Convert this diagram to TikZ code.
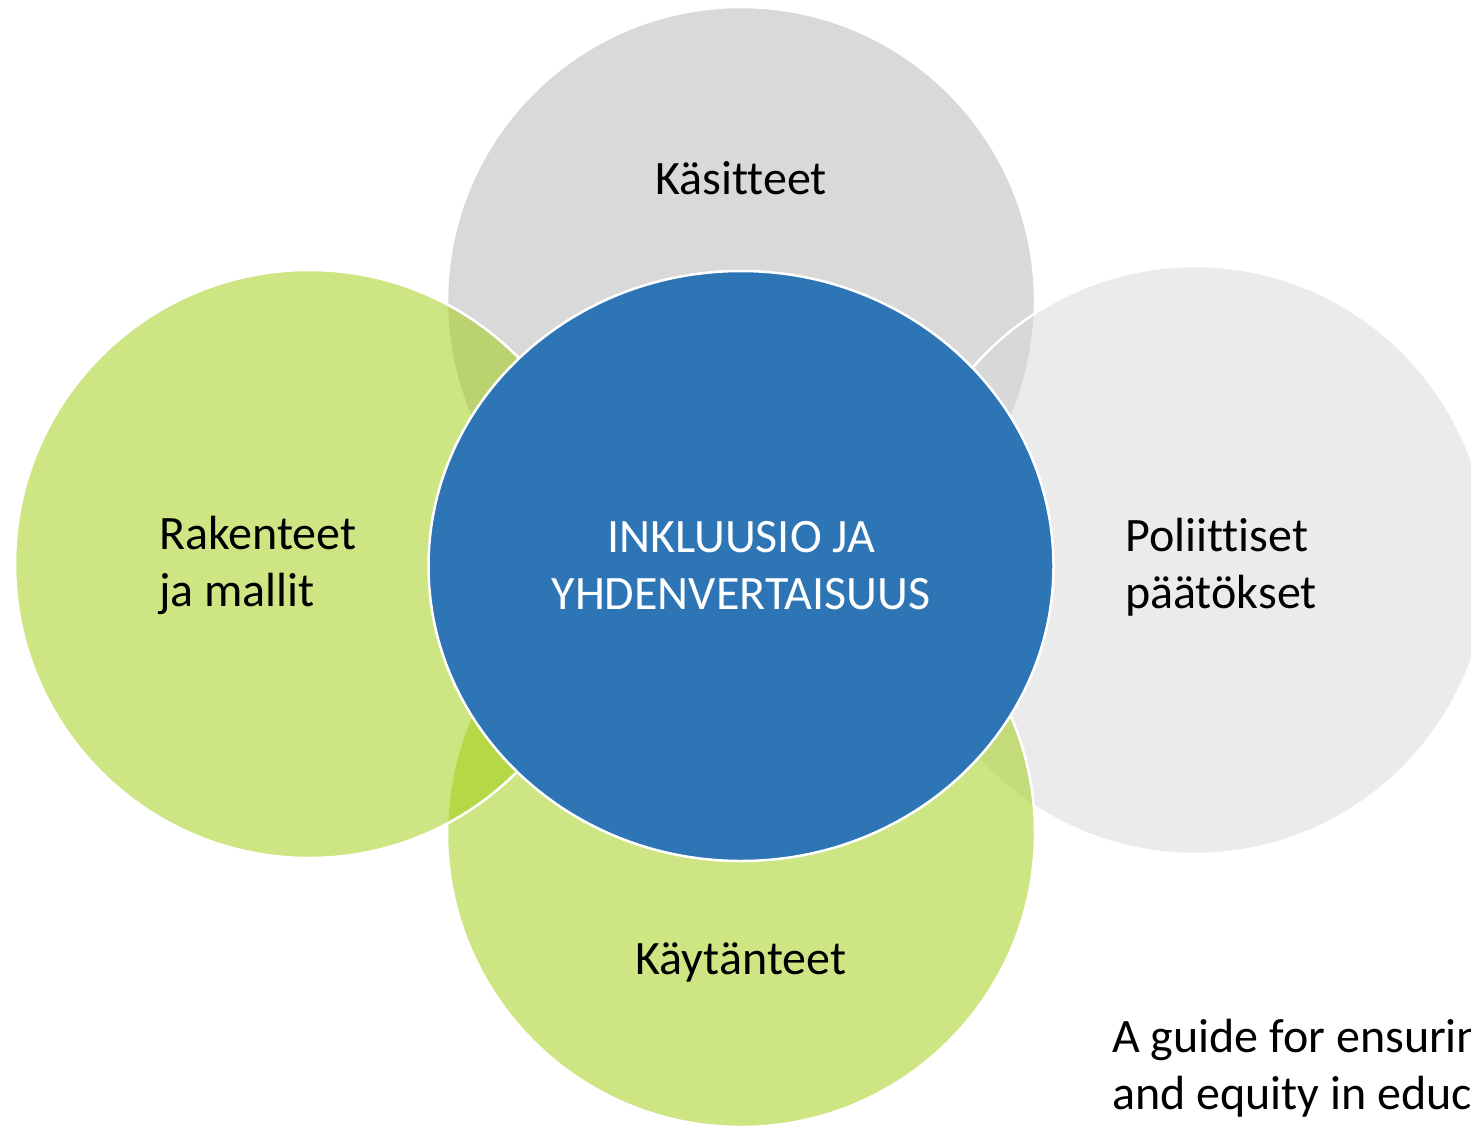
\documentclass[tikz,border=0pt]{standalone}
\usepackage{fontspec}
\setmainfont{Carlito}[Ligatures=NoCommon]
\usetikzlibrary{calc}
\usetikzlibrary{shapes}
\definecolor{topgray}{RGB}{179,179,179}
\definecolor{sidegray}{RGB}{215,215,215}
\definecolor{leafgreen}{RGB}{157,203,9}
\definecolor{coreblue}{RGB}{46,117,182}
\tikzset{petal/.style={circle, draw=white, line width=2.5pt, fill opacity=0.5, draw opacity=1, inner sep=0pt, minimum size=588pt}}
\tikzset{core/.style={ellipse, draw=white, line width=2.5pt, fill=coreblue, text=white, align=center, inner sep=0pt, minimum width=625pt, minimum height=590pt, font=\fontsize{48}{57}\selectfont}}
\tikzset{lbl/.style={inner sep=0pt, align=left, font=\fontsize{48}{57}\selectfont}}
\newcommand{\petal}[4]{\node[petal, fill=#4] (#1) at ( #2 , #3 ) {};}
\newcommand{\lbltext}[4]{\node[lbl, anchor=#4] (#1) at ( #2 , #3 )}

\begin{document}
\begin{tikzpicture}[x=1pt, y=-1pt]
        \useasboundingbox (0,0) rectangle (1471,1126);
        \clip (0,0) rectangle (1471,1126);

        % petals
        \petal{concepts}{741}{301}{topgray}
        \petal{policies}{1195}{560}{sidegray}
        \petal{practices}{741}{833}{leafgreen}
        \petal{structures}{309}{564}{leafgreen}

        % centre
        \node[core] (inclusion) at (741,566) {INKLUUSIO JA\\YHDENVERTAISUUS};

        % labels (base = last line)
        \lbltext{conceptslbl}{741}{194}{base} {Käsitteet};
        \lbltext{structureslbl}{159}{606}{base west} {Rakenteet\\ja mallit};
        \lbltext{policieslbl}{1125}{608}{base west} {Poliittiset\\päätökset};
        \lbltext{practiceslbl}{741}{974}{base} {Käytänteet};

        % source
        \lbltext{sourcelbl}{1112}{1109}{base west} {A guide for ensuring\\and equity in education};
    \end{tikzpicture}
\end{document}
